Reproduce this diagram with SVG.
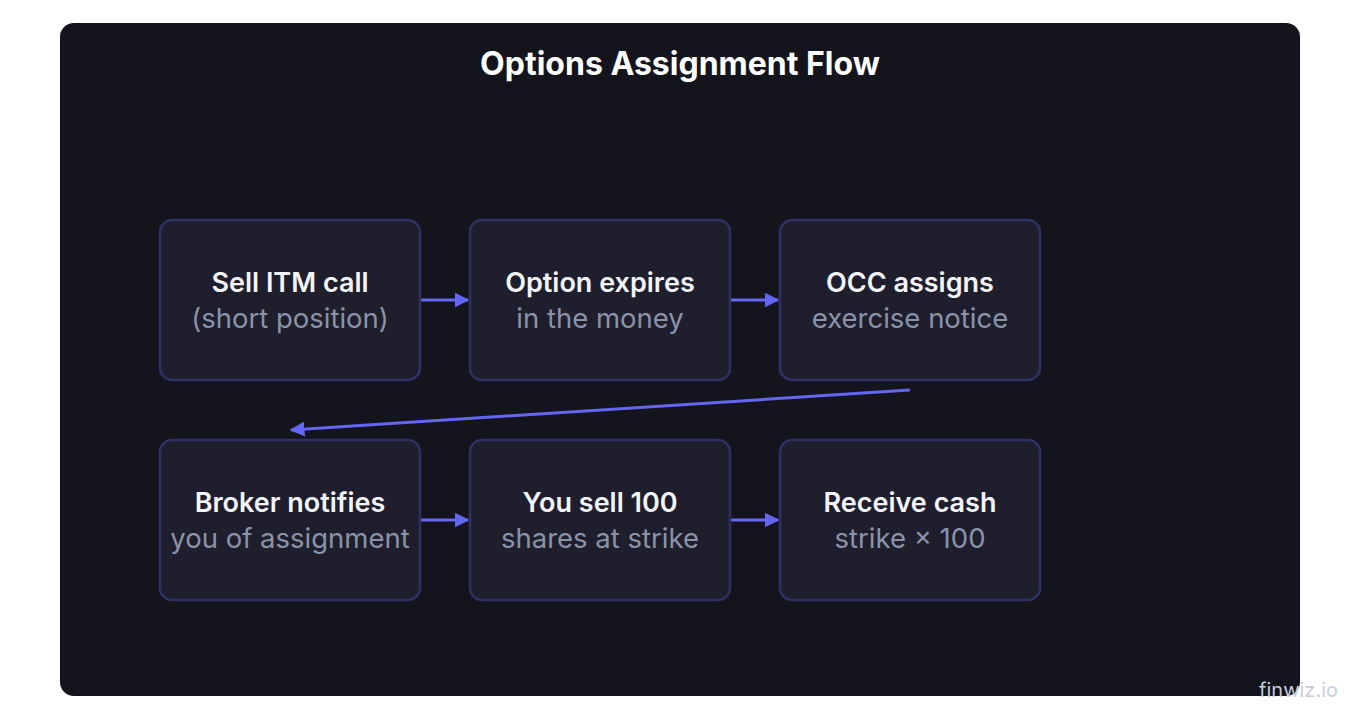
<svg xmlns="http://www.w3.org/2000/svg" width="1360" height="720" viewBox="0 0 1360 720">
<style>
.n{fill:#1e1e2d;stroke:#2f3163;stroke-width:2.5}
.t{font-family:Inter,"Liberation Sans",sans-serif;font-size:27px;font-weight:600;fill:#f4f4f8;text-anchor:middle}
.s{font-family:Inter,"Liberation Sans",sans-serif;font-size:27.5px;fill:#8a93a8;text-anchor:middle}
.c{stroke:#6366f1;stroke-width:3;fill:none;marker-end:url(#a)}
</style>
<defs><marker id="a" viewBox="0 0 10 10" refX="9" refY="5" markerWidth="5" markerHeight="5" orient="auto"><path d="M0,0L10,5L0,10z" fill="#6366f1"/></marker></defs>
<rect width="1360" height="720" fill="#ffffff"/>
<rect x="60" y="23" width="1240" height="673" rx="14" fill="#14141d"/>
<text x="680" y="75" font-family="Inter,'Liberation Sans',sans-serif" font-size="32" font-weight="700" fill="#ffffff" text-anchor="middle">Options Assignment Flow</text>
<g id="connectors">
<path class="c" d="M420,300H468"/>
<path class="c" d="M730,300H778"/>
<path class="c" d="M910,390L291,430"/>
<path class="c" d="M420,520H468"/>
<path class="c" d="M730,520H778"/>
</g>
<g id="n1"><rect class="n" x="160" y="220" width="260" height="160" rx="12"/><text class="t" x="290" y="292">Sell ITM call</text><text class="s" x="290" y="328">(short position)</text></g>
<g id="n2"><rect class="n" x="470" y="220" width="260" height="160" rx="12"/><text class="t" x="600" y="292">Option expires</text><text class="s" x="600" y="328">in the money</text></g>
<g id="n3"><rect class="n" x="780" y="220" width="260" height="160" rx="12"/><text class="t" x="910" y="292">OCC assigns</text><text class="s" x="910" y="328">exercise notice</text></g>
<g id="n4"><rect class="n" x="160" y="440" width="260" height="160" rx="12"/><text class="t" x="290" y="512">Broker notifies</text><text class="s" x="290" y="548">you of assignment</text></g>
<g id="n5"><rect class="n" x="470" y="440" width="260" height="160" rx="12"/><text class="t" x="600" y="512">You sell 100</text><text class="s" x="600" y="548">shares at strike</text></g>
<g id="n6"><rect class="n" x="780" y="440" width="260" height="160" rx="12"/><text class="t" x="910" y="512">Receive cash</text><text class="s" x="910" y="548">strike × 100</text></g>
<text x="1338" y="697" font-family="Inter,'Liberation Sans',sans-serif" font-size="20" fill="#c8ccda" text-anchor="end">finwiz.io</text>
</svg>
